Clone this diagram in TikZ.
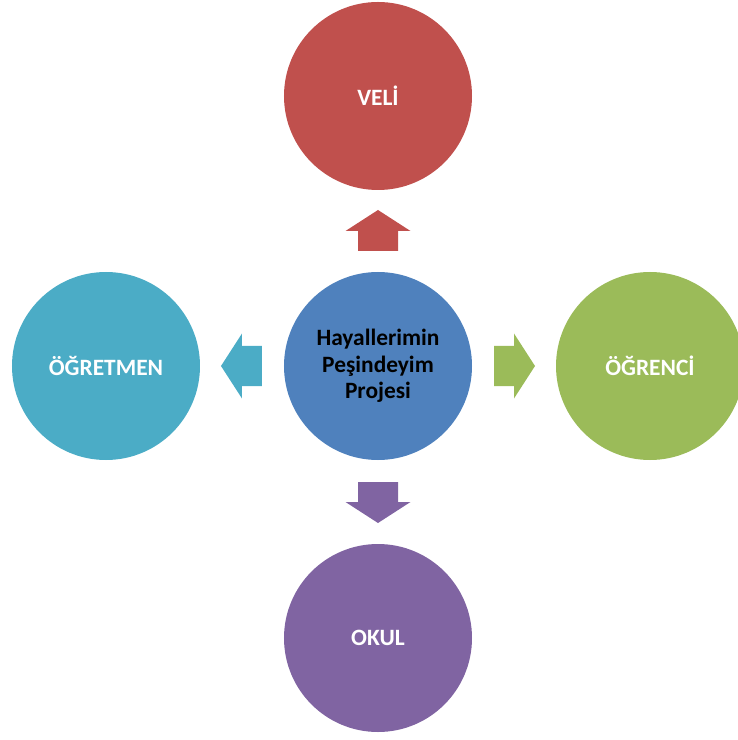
\documentclass[tikz,border=0pt]{standalone}
\usepackage{fontspec}
\setmainfont{Carlito}
\usepackage{tikz}
\usetikzlibrary{positioning,calc}
\usepackage{xcolor}

\definecolor{hubblue}{HTML}{4F81BD}
\definecolor{velired}{HTML}{C0504D}
\definecolor{ogrencigreen}{HTML}{9BBB59}
\definecolor{okulpurple}{HTML}{8064A2}
\definecolor{ogretmenaqua}{HTML}{4BACC6}

\tikzset{
    ball/.style={circle,minimum size=188bp,inner sep=0pt,text=white,
        font=\fontsize{23.5}{26.5}\selectfont\bfseries},
    blockarrow/.pic={
        \fill[pic actions] (-20,-20) -- (0,-20) -- (0,-32.5) -- (21,0)
            -- (0,32.5) -- (0,20) -- (-20,20) -- cycle;
    }
}

\begin{document}
\begin{tikzpicture}[x=1bp,y=1bp]
        \useasboundingbox (-378,-374) rectangle (360,366);

        \node [ball,fill=hubblue,text=black,align=center] (hub) at (0,0) {Hayallerimin\\Peşindeyim\\Projesi};
        \node [ball,fill=velired] (veli) at (0,270) {VELİ};
        \node [ball,fill=ogrencigreen] (ogrenci) at (272,0) {ÖĞRENCİ};
        \node [ball,fill=okulpurple] (okul) at (0,-272) {OKUL};
        \node [ball,fill=ogretmenaqua] (ogretmen) at (-272,0) {ÖĞRETMEN};

        \path ($(hub)!0.5!(veli)$) pic [rotate=90,fill=velired] {blockarrow};
        \path ($(hub)!0.5!(ogrenci)$) pic [fill=ogrencigreen] {blockarrow};
        \path ($(hub)!0.5!(okul)$) pic [rotate=-90,fill=okulpurple] {blockarrow};
        \path ($(hub)!0.5!(ogretmen)$) pic [rotate=180,fill=ogretmenaqua] {blockarrow};
    \end{tikzpicture}
\end{document}
